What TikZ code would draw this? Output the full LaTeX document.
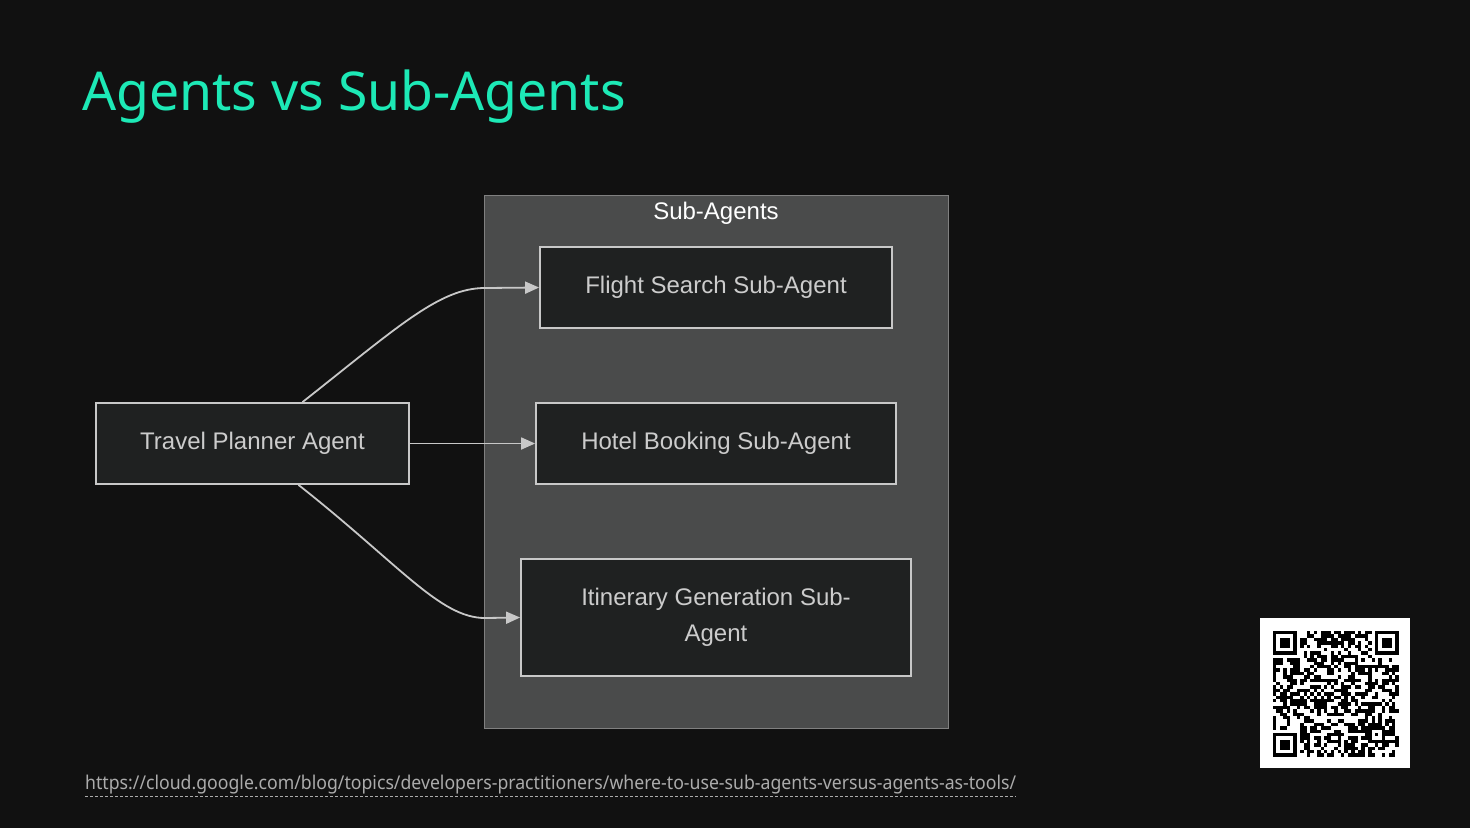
\documentclass[tikz,border=0pt]{standalone}
\usepackage{fontspec}
\setmainfont{Liberation Sans}
\newfontfamily\headfont{Noto Sans}
\newfontfamily\linkfont[FakeStretch=0.93]{Noto Sans}
\usetikzlibrary{positioning,arrows.meta,calc}
\definecolor{slide}    {HTML}{111111}
\definecolor{heading}  {HTML}{1DE9B6}
\definecolor{panel}    {HTML}{4A4B4B}
\definecolor{panelline}{HTML}{808080}
\definecolor{boxfill}  {HTML}{1F2121}
\definecolor{boxline}  {HTML}{C8C8C8}
\definecolor{boxtext}  {HTML}{CCCCCC}
\definecolor{linkgray} {HTML}{ABABAB}
\tikzset{
  % --- nodes
  agent/.style = {draw=boxline, fill=boxfill, line width=1.8pt, text=boxtext,
                  align=center, inner sep=0pt, minimum height=81pt,
                  font=\fontsize{24}{36}\selectfont},
  group/.style = {draw=panelline, fill=panel, line width=1pt, inner sep=0pt},
  grplbl/.style= {anchor=base, inner sep=0pt, text=white, font=\fontsize{24}{28}\selectfont},
  % --- edges
  flow/.style  = {-{Triangle[length=14pt,width=12pt]}, draw=boxline, line width=1.8pt},
}

\begin{document}
\begin{tikzpicture}[x=1pt,y=-1pt]
  \useasboundingbox (0,0) rectangle (1470,828);
  \fill[slide] (0,0) rectangle (1470,828);

  \node[anchor=base west, inner sep=0pt, text=heading,
        font=\headfont\fontsize{53.5}{64}\selectfont] (title) at (82,110) {Agents vs Sub-Agents};

  % sub-agent cluster
  \node[group, minimum width=464pt, minimum height=533pt] (grp) at (716,461.5) {};
  \node[grplbl] (grptitle) at (716,219) {Sub-Agents};

  \node[agent, minimum width=313pt] (tp)     at (252.5,443.5) {Travel Planner Agent};
  \node[agent, minimum width=352pt] (flight) at (716,287.5)   {Flight Search Sub-Agent};
  \node[agent, minimum width=360pt] (hotel)  at (716,443.5)   {Hotel Booking Sub-Agent};
  \node[agent, minimum width=390pt, minimum height=117pt] (itin) at (716,617.5)
        {Itinerary Generation Sub-\\Agent};

  \draw[flow] ([xshift=50pt]tp.north) .. controls (400,325) and (440,288) .. (485,288) -- (flight.west);
  \draw[flow] (tp.east) -- (hotel.west);
  \draw[flow] ([xshift=46pt]tp.south) .. controls (400,565) and (440,618) .. (485,618) -- (itin.west);

  % source link
  \node[anchor=base west, inner sep=0pt, text=linkgray,
        font=\linkfont\fontsize{19}{22}\selectfont] (url) at (85,789)
        {https://cloud.google.com/blog/topics/developers-practitioners/where-to-use-sub-agents-versus-agents-as-tools/};
  \draw[linkgray, line width=0.8pt, dash pattern=on 3pt off 2pt]
        ([yshift=-7pt]url.base west) -- ([yshift=-7pt]url.base east);

  % qr code
  \fill[white] (1260,618) rectangle (1410,768);
  \begin{scope}[shift={(1273,631)}, x=3.4pt, y=-3.4pt]
    \pgfmathsetseed{4242}
    \foreach \i in {0,...,36}{
      \foreach \j in {0,...,36}{
        \pgfmathtruncatemacro\qrbit{rnd<0.5 ? 1 : 0}
        \pgfmathtruncatemacro\qrhole{((\i<8) && (\j<8)) || ((\i>28) && (\j<8)) || ((\i<8) && (\j>28)) ? 1 : 0}
        \ifnum\qrhole=0 \ifnum\qrbit=1
          \fill[black] (\i,\j) rectangle ++(1,1);
        \fi\fi
      }
    }
    \foreach \fx/\fy in {0/0,30/0,0/30}{
      \fill[black] (\fx,\fy) rectangle ++(7,7);
      \fill[white] (\fx+1,\fy+1) rectangle ++(5,5);
      \fill[black] (\fx+2,\fy+2) rectangle ++(3,3);
    }
    \fill[black] (28,28) rectangle ++(5,5);
    \fill[white] (29,29) rectangle ++(3,3);
    \fill[black] (30,30) rectangle ++(1,1);
  \end{scope}
\end{tikzpicture}
\end{document}
